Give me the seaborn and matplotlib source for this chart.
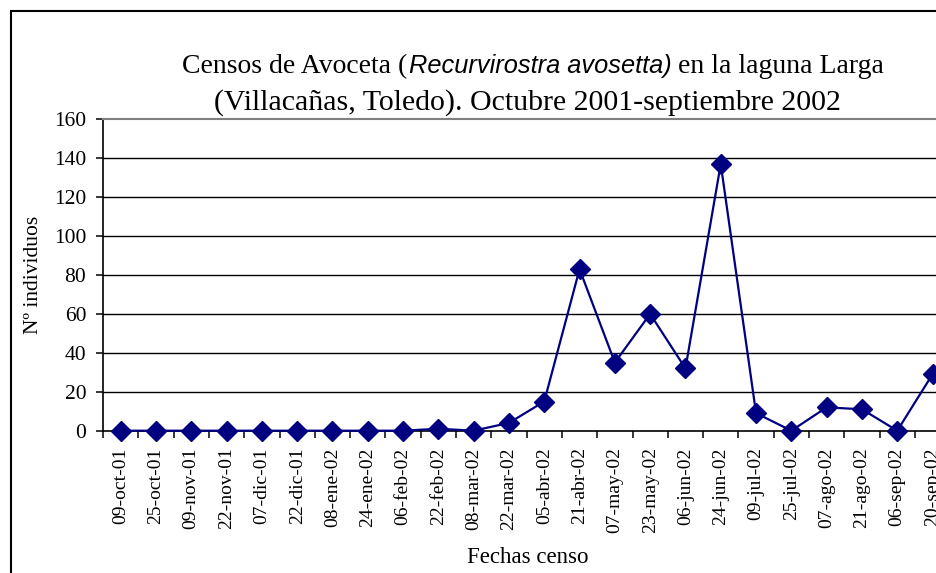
import matplotlib
matplotlib.use("Agg")
import matplotlib.pyplot as plt
import seaborn as sns
import pandas as pd
from matplotlib.patches import Rectangle

fechas = ["09-oct-01", "25-oct-01", "09-nov-01", "22-nov-01", "07-dic-01", "22-dic-01",
          "08-ene-02", "24-ene-02", "06-feb-02", "22-feb-02", "08-mar-02", "22-mar-02",
          "05-abr-02", "21-abr-02", "07-may-02", "23-may-02", "06-jun-02", "24-jun-02",
          "09-jul-02", "25-jul-02", "07-ago-02", "21-ago-02", "06-sep-02", "20-sep-02"]
individuos = [0, 0, 0, 0, 0, 0, 0, 0, 0, 1, 0, 4,
              15, 83, 35, 60, 32, 137, 9, 0, 12, 11, 0, 29]
yticks = [0, 20, 40, 60, 80, 100, 120, 140, 160]

sns.set_theme(style="white")
plt.rcParams['font.family'] = ['Liberation Serif', 'DejaVu Serif']

df = pd.DataFrame({"Fecha": fechas, "N": individuos})

W, H = 937, 573
fig = plt.figure(figsize=(W / 100, H / 100), dpi=100)
fig.patch.set_facecolor("white")

ax_left, ax_right = 103.0, 950.2
ax_bottom, ax_top = 430.7, 119.3
ax = fig.add_axes([ax_left / W, 1 - ax_bottom / H, (ax_right - ax_left) / W, (ax_bottom - ax_top) / H])

sns.pointplot(data=df, x="Fecha", y="N", ax=ax, color="#000080", markers="D",
              linestyles="-", errorbar=None, markersize=10, linewidth=1.6,
              markeredgewidth=1)
for ln in ax.lines:
    ln.set_clip_on(False)
    ln.set_zorder(5)

ax.set_xlim(-0.5, len(fechas) - 0.5)
ax.set_ylim(0, 160)
ax.set_yticks(yticks)
ax.set_yticklabels([str(v) for v in yticks], fontsize=15.5)
ax.set_xticks(range(len(fechas)))
ax.set_xticklabels(fechas, rotation=90, fontsize=14)
ax.set_xticks([i - 0.5 for i in range(len(fechas) + 1)], minor=True)
ax.tick_params(axis="x", which="major", length=0, pad=12, colors="black")
ax.tick_params(axis="x", which="minor", length=5, width=1.1, direction="out", color="black", bottom=True)
ax.tick_params(axis="y", which="major", length=5, width=1.1, direction="out", pad=7, colors="black", left=True)

for v in yticks[1:-1]:
    ax.axhline(v, color="black", lw=1.0, zorder=0)

for s in ["left", "bottom"]:
    ax.spines[s].set_color("black")
    ax.spines[s].set_linewidth(1.2)
ax.spines["top"].set_color("#808080")
ax.spines["top"].set_linewidth(1.5)
ax.spines["right"].set_visible(False)
ax.grid(False)

ax.set_ylabel("Nº individuos", fontsize=15.5, color="black")
ax.yaxis.label.set_va("center")
ax.yaxis.set_label_coords((33.5 - ax_left) / (ax_right - ax_left), 0.5)
ax.set_xlabel("Fechas censo", fontsize=16.5, color="black")
ax.xaxis.label.set_va("baseline")
ax.xaxis.set_label_coords((528 - ax_left) / (ax_right - ax_left), (ax_bottom - 563) / (ax_bottom - ax_top))

# Title, line 1: serif + italic sans + serif
renderer = fig.canvas.get_renderer()
y1 = 1 - 73 / H
t1 = fig.text(182 / W, y1, "Censos de Avoceta (", ha="left", va="baseline",
              fontsize=20, color="black")
x_end = t1.get_window_extent(renderer).x1
t2 = fig.text((x_end + 2) / W, y1, "Recurvirostra avosetta)", ha="left", va="baseline",
              fontsize=18.3, style="italic", family=["Liberation Sans", "DejaVu Sans"], color="black")
x_end = t2.get_window_extent(renderer).x1
fig.text((x_end + 6) / W, y1, "en la laguna Larga", ha="left", va="baseline",
         fontsize=20, color="black")

fig.text(527.5 / W, 1 - 110 / H,
         "(Villacañas, Toledo). Octubre 2001-septiembre 2002",
         ha="center", va="baseline", fontsize=21.5, color="black")

fig.patches.append(Rectangle((11.5 / W, -0.1), 2.0, 1 - 11 / H + 0.1, transform=fig.transFigure,
                             fill=False, ec="black", lw=1.5, zorder=-1))

fig.savefig("out.png", dpi=100)
